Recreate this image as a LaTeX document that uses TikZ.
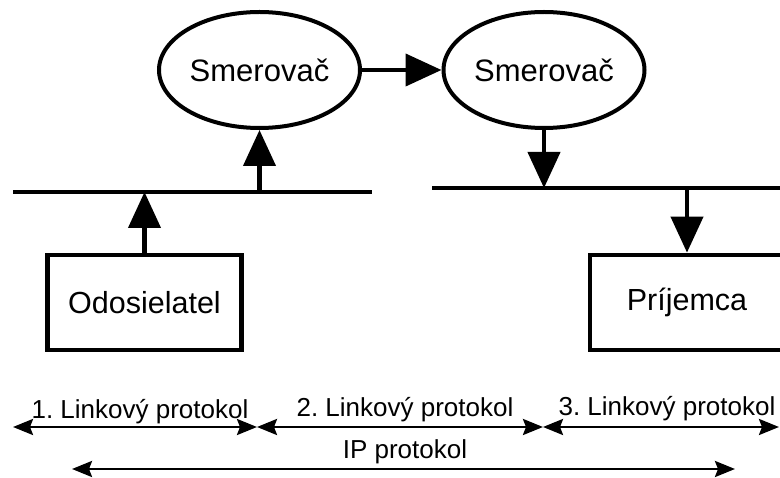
\documentclass[tikz,border=0pt]{standalone}
\usepackage{fontspec}
\setmainfont{Liberation Sans}
\usetikzlibrary{arrows.meta,shapes.geometric}
\frenchspacing
\begin{document}
\begin{tikzpicture}[x=1pt,y=-1pt,
  router/.style={draw, ellipse, line width=4pt, minimum width=201pt, minimum height=116pt, inner sep=0pt, font=\fontsize{31}{36}\selectfont},
  hostbox/.style={draw, rectangle, line width=4.8pt, minimum width=194pt, minimum height=95pt, inner sep=0pt, font=\fontsize{30.5}{36}\selectfont},
  bus/.style={line width=4.8pt},
  bigarrow/.style={line width=4.2pt, -{Triangle[length=36pt,width=32pt]}},
  span/.style={line width=2.6pt, {Stealth[length=20pt,width=16pt,inset=3pt]}-{Stealth[length=20pt,width=16pt,inset=3pt]}},
  lbl/.style={anchor=base, font=\fontsize{26}{30}\selectfont, inner sep=0pt}
]
\useasboundingbox (0,0) rectangle (780,478);
\clip (0,0) rectangle (780,478);

% routers
\node[router] (r1) at (259.5,70) {Smerovač};
\node[router] (r2) at (544,70) {Smerovač};

% hosts
\node[hostbox] (snd) at (144.5,302.5) {Odosielatel};
\node[hostbox] (rcv) at (687,302.5) {Príjemca};

% buses
\coordinate (bus1L) at (13,192);
\coordinate (bus1R) at (372,192);
\coordinate (bus2L) at (432,188);
\coordinate (bus2R) at (790,188);
\draw[bus] (bus1L) -- (bus1R);
\draw[bus] (bus2L) -- (bus2R);

% flow arrows
\draw[bigarrow] (snd.north) -- (snd.north |- bus1L);
\draw[bigarrow] (r1.south |- bus1L) -- (r1.south);
\draw[bigarrow] (r1.east) -- (r2.west);
\draw[bigarrow] (r2.south) -- (r2.south |- bus2L);
\draw[bigarrow] (rcv.north |- bus2L) -- (rcv.north);

% protocol spans
\coordinate (p0) at (13,427);
\coordinate (p1) at (257,427);
\coordinate (p2) at (543,427);
\coordinate (p3) at (779,427);
\coordinate (q0) at (72,469);
\coordinate (q1) at (735,469);
\draw[span] (p0) -- (p1);
\draw[span] (p1) -- (p2);
\draw[span] (p2) -- (p3);
\draw[span] (q0) -- (q1);

\node[lbl] (l1) at (140,419) {1. Linkový protokol};
\node[lbl] (l2) at (405,417) {2. Linkový protokol};
\node[lbl] (l3) at (667,416) {3. Linkový protokol};
\node[lbl] (lip) at (405,459) {IP protokol};
\end{tikzpicture}
\end{document}
